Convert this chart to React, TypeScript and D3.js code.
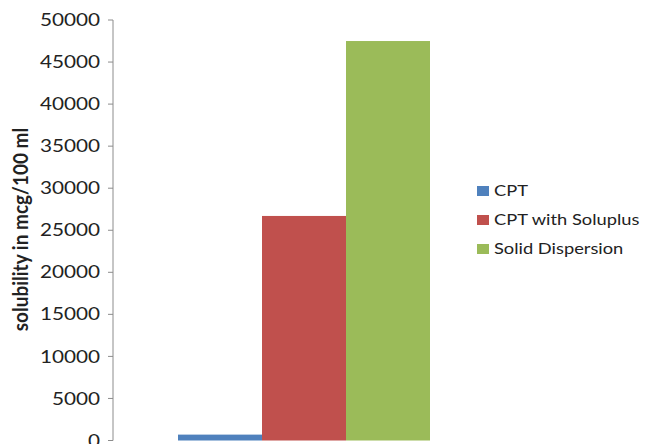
import React from "react";
import * as d3 from "d3";

const categories = ["CPT", "CPT with Soluplus", "Solid Dispersion"];
const values = [700, 26700, 47500];
const colors = ["#4F81BD", "#C0504D", "#9BBB59"];
const yTicks = [0, 5000, 10000, 15000, 20000, 25000, 30000, 35000, 40000, 45000, 50000];
const yTitle = "solubility in mcg/100 ml";

const W = 654;
const H = 444;
const FONT = "Lato, 'Open Sans', sans-serif";
// text is drawn slightly wide, like the rest of the figure
const SX = 1.22;

export default function App() {
  const y = d3.scaleLinear().domain([0, 50000]).range([440.5, 20]);
  const x = d3.scaleBand().domain(categories).range([178, 430]).padding(0);
  const axisX = 113;

  return (
    <svg
      width={W}
      height={H}
      style={{ position: "absolute", left: 0, top: 0, background: "#fff" }}
      fontFamily={FONT}
    >
      {/* bars */}
      {categories.map((c, i) => (
        <rect
          key={c}
          x={x(c)}
          y={y(values[i])}
          width={x.bandwidth()}
          height={y(0) - y(values[i])}
          fill={colors[i]}
        />
      ))}

      {/* y axis */}
      <line x1={axisX} x2={axisX} y1={y(50000)} y2={y(0)} stroke="#8c8c8c" strokeWidth={1} />
      {yTicks.map((t) => (
        <g key={t}>
          <line x1={axisX - 5} x2={axisX} y1={y(t)} y2={y(t)} stroke="#8c8c8c" strokeWidth={1} />
          <text
            transform={`translate(${axisX - 13},${y(t)}) scale(${SX},1)`}
            dy="0.36em"
            textAnchor="end"
            fontSize={17}
            fill="#222"
          >
            {t}
          </text>
        </g>
      ))}

      {/* y axis title */}
      <text
        transform={`translate(28,229.5) rotate(-90) scale(1,1.1)`}
        textAnchor="middle"
        fontSize={19}
        fontWeight={700}
        fill="#222"
      >
        {yTitle}
      </text>

      {/* legend */}
      {categories.map((c, i) => (
        <g key={c} transform={`translate(477,${191 + i * 29})`}>
          <rect x={0} y={-5} width={12} height={10} fill={colors[i]} />
          <text
            transform={`translate(17,0) scale(${SX},1)`}
            dy="0.36em"
            fontSize={15}
            fill="#222"
          >
            {c}
          </text>
        </g>
      ))}
    </svg>
  );
}
